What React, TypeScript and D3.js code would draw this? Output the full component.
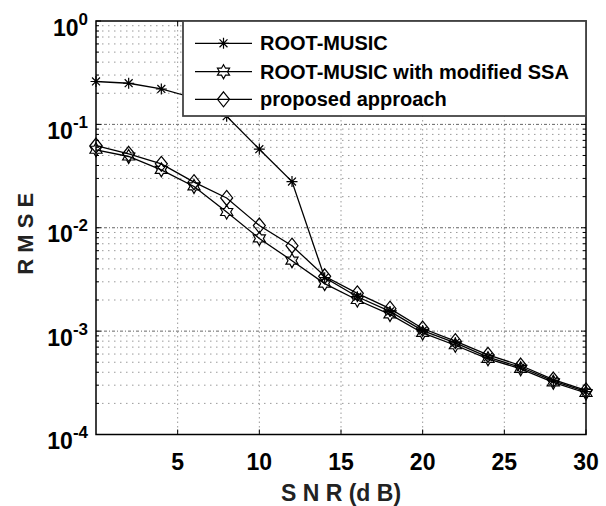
import React from "react";
import * as d3 from "d3";

const snr = [0, 2, 4, 6, 8, 10, 12, 14, 16, 18, 20, 22, 24, 26, 28, 30];
const rootMusic = [0.26, 0.25, 0.22, 0.18, 0.12, 0.0575, 0.028, 0.00329, 0.00215, 0.00155, 0.00101, 0.00077, 0.00056, 0.000447, 0.00033, 0.00026];
const modifiedSSA = [0.0568, 0.0489, 0.0363, 0.0251, 0.0142, 0.00788, 0.0048, 0.00288, 0.002, 0.00145, 0.00096, 0.00073, 0.00054, 0.000432, 0.00032, 0.000252];
const proposed = [0.0624, 0.0519, 0.0415, 0.0276, 0.0194, 0.0105, 0.0067, 0.00339, 0.00232, 0.00165, 0.00106, 0.0008, 0.00059, 0.000465, 0.00034, 0.000267];

const xTicks = [5, 10, 15, 20, 25, 30];
const yDecades = [0, -1, -2, -3, -4];
const seriesNames = ["ROOT-MUSIC", "ROOT-MUSIC with modified SSA", "proposed approach"];

const W = 606, H = 506;
const L = 96, R = 586, T = 21, B = 434.5;
const FONT = "'Liberation Sans', Arial, Helvetica, sans-serif";

function asterisk(cx: number, cy: number, r: number) {
  const d = r * 0.72;
  return `M${cx},${cy - r}L${cx},${cy + r}M${cx - r},${cy}L${cx + r},${cy}M${cx - d},${cy - d}L${cx + d},${cy + d}M${cx - d},${cy + d}L${cx + d},${cy - d}`;
}
function hexagram(cx: number, cy: number, r: number) {
  const ri = r / Math.sqrt(3);
  const pts: string[] = [];
  for (let i = 0; i < 12; i++) {
    const a = -Math.PI / 2 + (i * Math.PI) / 6;
    const rr = i % 2 === 0 ? r : ri;
    pts.push(`${cx + rr * Math.cos(a)},${cy + rr * Math.sin(a)}`);
  }
  return "M" + pts.join("L") + "Z";
}
function diamond(cx: number, cy: number, w: number, h: number) {
  return `M${cx},${cy - h}L${cx + w},${cy}L${cx},${cy + h}L${cx - w},${cy}Z`;
}

export default function App() {
  const x = d3.scaleLinear().domain([0, 30]).range([L, R]);
  const y = d3.scaleLog().domain([1e-4, 1]).range([B, T]);
  const line = d3.line<[number, number]>().x((d) => x(d[0])).y((d) => y(d[1]));

  const minor: number[] = [];
  for (let e = -4; e < 0; e++) for (let m = 2; m <= 9; m++) minor.push(m * Math.pow(10, e));

  const series = [rootMusic, modifiedSSA, proposed];
  const marker = (k: number, cx: number, cy: number) =>
    k === 0 ? asterisk(cx, cy, 5.5) : k === 1 ? hexagram(cx, cy, 7) : diamond(cx, cy, 6, 7.5);

  const legRows = [43.3, 71.7, 99.3];

  return (
    <svg width={W} height={H} style={{ position: "absolute", left: 0, top: 0, background: "#fff" }} fontFamily={FONT}>
      <rect x={0} y={0} width={W} height={H} fill="#fff" />
      {/* grid */}
      {minor.map((v, i) => (
        <line key={"mg" + i} x1={L} x2={R} y1={y(v)} y2={y(v)} stroke="#9a9a9a" strokeWidth={1} strokeDasharray="1.5,4.5" />
      ))}
      {yDecades.slice(1, 4).map((e) => (
        <line key={"dg" + e} x1={L} x2={R} y1={y(Math.pow(10, e))} y2={y(Math.pow(10, e))} stroke="#666" strokeWidth={1} strokeDasharray="3,2,1,2" />
      ))}
      {xTicks.slice(0, 5).map((t) => (
        <line key={"vg" + t} x1={x(t)} x2={x(t)} y1={T} y2={B} stroke="#9a9a9a" strokeWidth={1} strokeDasharray="1.5,3" />
      ))}
      {/* ticks */}
      {minor.map((v, i) => (
        <g key={"mt" + i}>
          <line x1={L} x2={L + 3} y1={y(v)} y2={y(v)} stroke="#000" />
          <line x1={R} x2={R - 3} y1={y(v)} y2={y(v)} stroke="#000" />
        </g>
      ))}
      {yDecades.map((e) => (
        <g key={"Mt" + e}>
          <line x1={L} x2={L + 5} y1={y(Math.pow(10, e))} y2={y(Math.pow(10, e))} stroke="#000" />
          <line x1={R} x2={R - 5} y1={y(Math.pow(10, e))} y2={y(Math.pow(10, e))} stroke="#000" />
        </g>
      ))}
      {xTicks.map((t) => (
        <g key={"xt" + t}>
          <line x1={x(t)} x2={x(t)} y1={B} y2={B - 5} stroke="#000" />
          <line x1={x(t)} x2={x(t)} y1={T} y2={T + 5} stroke="#000" />
        </g>
      ))}
      {/* series */}
      {series.map((s, k) => {
        const pts = snr.map((v, i) => [v, s[i]] as [number, number]);
        return (
          <g key={"s" + k}>
            <path d={line(pts) || ""} fill="none" stroke="#000" strokeWidth={1.3} />
            {pts.map((p, i) => (
              <path key={i} d={marker(k, x(p[0]), y(p[1]))} fill="none" stroke="#000" strokeWidth={1.2} />
            ))}
          </g>
        );
      })}
      {/* axes box */}
      <rect x={L} y={T} width={R - L} height={B - T} fill="none" stroke="#000" strokeWidth={1.5} />
      {/* legend */}
      <rect x={183} y={T} width={R - 183} height={116 - T} fill="#fff" stroke="#444" strokeWidth={1.8} />
      {seriesNames.map((n, k) => (
        <g key={"lg" + k}>
          <line x1={195} x2={252} y1={legRows[k]} y2={legRows[k]} stroke="#000" strokeWidth={1.3} />
          <path d={marker(k, 223.5, legRows[k])} fill="none" stroke="#000" strokeWidth={1.2} />
          <text x={260} y={legRows[k] + 7} fontSize={20} fontWeight="bold" fill="#000">{n}</text>
        </g>
      ))}
      {/* y tick labels */}
      {yDecades.map((e) => (
        <text key={"yl" + e} x={88} y={y(Math.pow(10, e)) + 14.5} textAnchor="end" fontSize={23} fontWeight="bold" fill="#000">
          10<tspan dy={-11} fontSize={17}>{String(e)}</tspan>
        </text>
      ))}
      {/* x tick labels */}
      {xTicks.map((t) => (
        <text key={"xl" + t} x={x(t)} y={470} textAnchor="middle" fontSize={23} fontWeight="bold" fill="#000">{t}</text>
      ))}
      <text x={(L + R) / 2} y={501} textAnchor="middle" fontSize={23} fontWeight="bold" fill="#222">S N R (d B)</text>
      <text transform={`translate(33,${(T + B) / 2 + 6}) rotate(-90)`} textAnchor="middle" fontSize={22} fontWeight="bold" fill="#222">R M S E</text>
    </svg>
  );
}
